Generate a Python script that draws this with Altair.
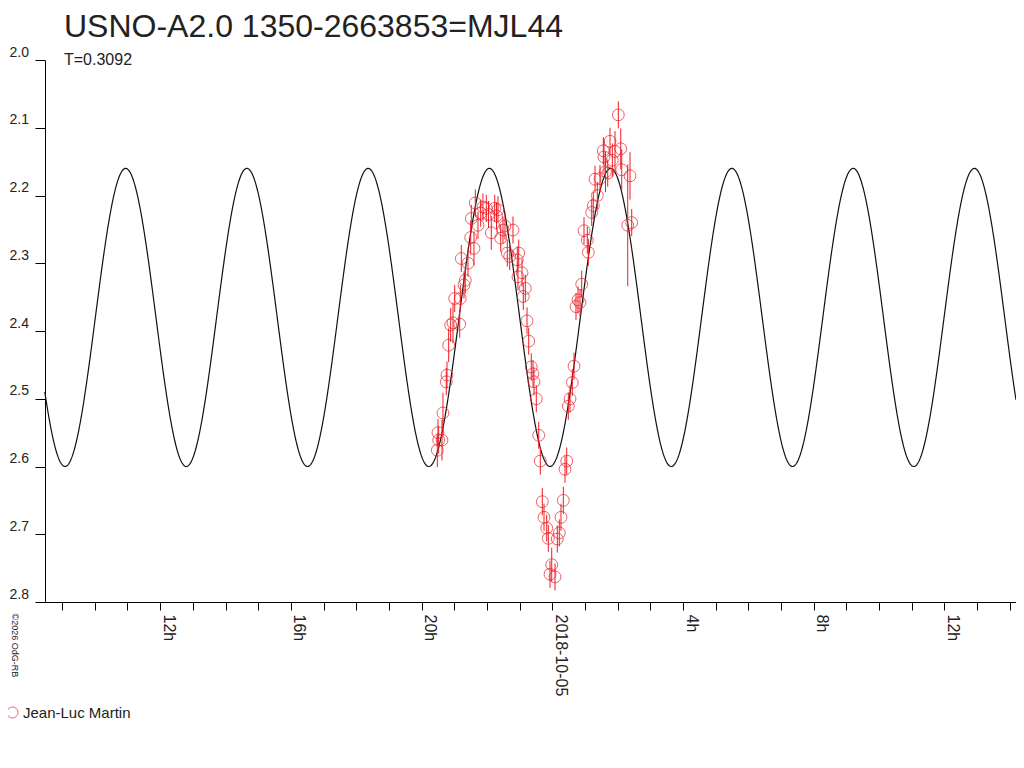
import altair as alt
import pandas as pd

TITLE = "USNO-A2.0 1350-2663853=MJL44"
SUBTITLE = "T=0.3092"
OBSERVER = "Jean-Luc Martin"
CREDIT = "\u00a92026 OdG-RB"

# observation times: hours relative to 2018-10-05 00:00
obs_hours = [
    -3.520, -3.499, -3.477, -3.376, -3.346, -3.245, -3.223, -3.171, -3.110, -3.039,
    -2.987, -2.834, -2.816, -2.785, -2.703, -2.663, -2.580, -2.498, -2.479, -2.397,
    -2.357, -2.274, -2.192, -2.121, -2.020, -1.953, -1.867, -1.763, -1.708, -1.662,
    -1.579, -1.509, -1.448, -1.377, -1.304, -1.203, -1.071, -1.050, -1.028, -0.927,
    -0.888, -0.826, -0.774, -0.722, -0.643, -0.591, -0.560, -0.490, -0.416, -0.367,
    -0.306, -0.254, -0.171, -0.122, -0.070, -0.018, 0.083, 0.153, 0.214, 0.266,
    0.337, 0.389, 0.441, 0.490, 0.542, 0.612, 0.664, 0.725, 0.787, 0.848,
    0.900, 0.970, 1.071, 1.102, 1.206, 1.255, 1.307, 1.377, 1.460, 1.561,
    1.582, 1.628, 1.696, 1.766, 1.837, 1.919, 2.020, 2.094, 2.124, 2.308,
    2.378, 2.430,
]
obs_mag = [
    2.576, 2.550, 2.561, 2.561, 2.521, 2.475, 2.465, 2.421, 2.391, 2.388,
    2.352, 2.390, 2.352, 2.293, 2.332, 2.325, 2.300, 2.262, 2.234, 2.278,
    2.211, 2.244, 2.226, 2.217, 2.219, 2.228, 2.255, 2.219, 2.230, 2.221,
    2.263, 2.251, 2.245, 2.285, 2.290, 2.251, 2.295, 2.320, 2.285, 2.314,
    2.349, 2.337, 2.385, 2.415, 2.453, 2.463, 2.475, 2.500, 2.554, 2.592,
    2.652, 2.675, 2.691, 2.706, 2.759, 2.745, 2.763, 2.707, 2.698, 2.675,
    2.650, 2.604, 2.592, 2.511, 2.500, 2.476, 2.452, 2.364, 2.354, 2.358,
    2.331, 2.252, 2.266, 2.284, 2.225, 2.215, 2.176, 2.200, 2.175, 2.134,
    2.143, 2.165, 2.167, 2.120, 2.148, 2.135, 2.081, 2.131, 2.162, 2.244,
    2.171, 2.240,
]
obs_err = [
    0.025, 0.020, 0.020, 0.030, 0.030, 0.020, 0.020, 0.025, 0.025, 0.030,
    0.020, 0.020, 0.020, 0.020, 0.020, 0.020, 0.020, 0.025, 0.020, 0.025,
    0.020, 0.020, 0.020, 0.020, 0.020, 0.020, 0.025, 0.020, 0.020, 0.020,
    0.020, 0.020, 0.020, 0.020, 0.020, 0.020, 0.020, 0.020, 0.020, 0.020,
    0.020, 0.020, 0.020, 0.020, 0.020, 0.020, 0.020, 0.020, 0.020, 0.020,
    0.020, 0.020, 0.020, 0.020, 0.020, 0.025, 0.020, 0.020, 0.020, 0.020,
    0.020, 0.020, 0.020, 0.020, 0.020, 0.020, 0.020, 0.020, 0.020, 0.020,
    0.020, 0.020, 0.020, 0.020, 0.020, 0.020, 0.020, 0.020, 0.020, 0.020,
    0.025, 0.030, 0.020, 0.020, 0.025, 0.030, 0.020, 0.030, 0.030, 0.090,
    0.035, 0.020,
]

# fitted model (double wave: two equal maxima per period T)
PERIOD_DAYS = 0.3092
MODEL_MEAN = 2.38
MODEL_AMP = 0.22
MODEL_MIN_EPOCH_H = -0.07   # a light minimum, hours from 2018-10-05 00:00
CURVE_START_H = -15.53
CURVE_END_H = 14.20

X_DOMAIN = [-15.80, 14.19]
Y_DOMAIN = [2.0, 2.8]
x_tick_hours = list(range(-15, 15))
y_ticks = [2.0, 2.1, 2.2, 2.3, 2.4, 2.5, 2.6, 2.7, 2.8]

RED = "#ee1c24"
FONT = "Liberation Sans"

obs = pd.DataFrame({"h": obs_hours, "mag": obs_mag, "err": obs_err})
obs["lo"] = obs["mag"] - obs["err"]
obs["hi"] = obs["mag"] + obs["err"]
obs["observer"] = OBSERVER

label_expr = (
    "datum.value == 0 ? '2018-10-05' : "
    "(abs(datum.value) % 4 == 0 ? ((datum.value + 24) % 24) + 'h' : '')"
)

x_scale = alt.Scale(domain=X_DOMAIN, nice=False, zero=False)
y_scale = alt.Scale(domain=Y_DOMAIN, reverse=True, nice=False, zero=False)

x_axis = alt.Axis(
    values=x_tick_hours, labelExpr=label_expr, title=None, grid=False,
    tickSize=8, tickColor="black", domainColor="black", labelAngle=90,
    labelAlign="left", labelBaseline="bottom", labelPadding=4,
    labelFontSize=16, labelColor="#222",
)
y_axis = alt.Axis(
    values=y_ticks, format=".1f", grid=False, tickSize=10, tickColor="black",
    domainColor="black", labelAlign="left", labelBaseline="alphabetic",
    labelPadding=26, labelOffset=-4, labelFontSize=14, labelColor="#222",
    offset=-9, title=CREDIT, titleAngle=90, titleFontSize=9,
    titleFontWeight="normal", titleColor="#222", titleX=-36, titleY=553,
    titleAlign="left", titleBaseline="bottom",
)

X = alt.X("h:Q", scale=x_scale, axis=x_axis)

curve = alt.Chart(
    alt.sequence(CURVE_START_H, CURVE_END_H, 0.02, as_="h")
).transform_calculate(
    mag=f"{MODEL_MEAN} + {MODEL_AMP} * cos(2 * PI * 2 * (datum.h - ({MODEL_MIN_EPOCH_H})) / ({PERIOD_DAYS} * 24))"
).mark_line(color="#111", strokeWidth=1.2, clip=True).encode(
    x=X,
    y=alt.Y("mag:Q", scale=y_scale, axis=y_axis),
)

bars = alt.Chart(obs).mark_rule(strokeWidth=1).encode(
    x=X,
    y=alt.Y("lo:Q", scale=y_scale, axis=y_axis),
    y2="hi:Q",
    color=alt.value(RED),
)

points = alt.Chart(obs).mark_point(shape="circle", filled=False, size=140, strokeWidth=1).encode(
    x=X,
    y=alt.Y("mag:Q", scale=y_scale, axis=y_axis),
    color=alt.Color(
        "observer:N",
        scale=alt.Scale(domain=[OBSERVER], range=[RED]),
        legend=alt.Legend(
            title=None, orient="none", legendX=-31, legendY=645,
            labelFontSize=15, labelColor="#222", symbolSize=121,
            symbolStrokeWidth=1, symbolType="circle", labelOffset=3, padding=0,
        ),
    ),
)

chart = alt.layer(curve, bars, points).properties(
    width=980,
    height=542,
    autosize=alt.AutoSizeParams(type="none"),
    padding={"left": 28, "top": 52, "right": 0, "bottom": 130},
    title=alt.TitleParams(
        text=TITLE, subtitle=SUBTITLE, anchor="start", frame="group",
        fontSize=32, fontWeight="normal", color="#222", subtitleFontSize=16,
        subtitleColor="#222", subtitlePadding=8, offset=-24, dx=28,
    ),
).configure(font=FONT).configure_view(stroke=None)

chart.save("out.html", embed_options={"renderer": "svg", "actions": False})
